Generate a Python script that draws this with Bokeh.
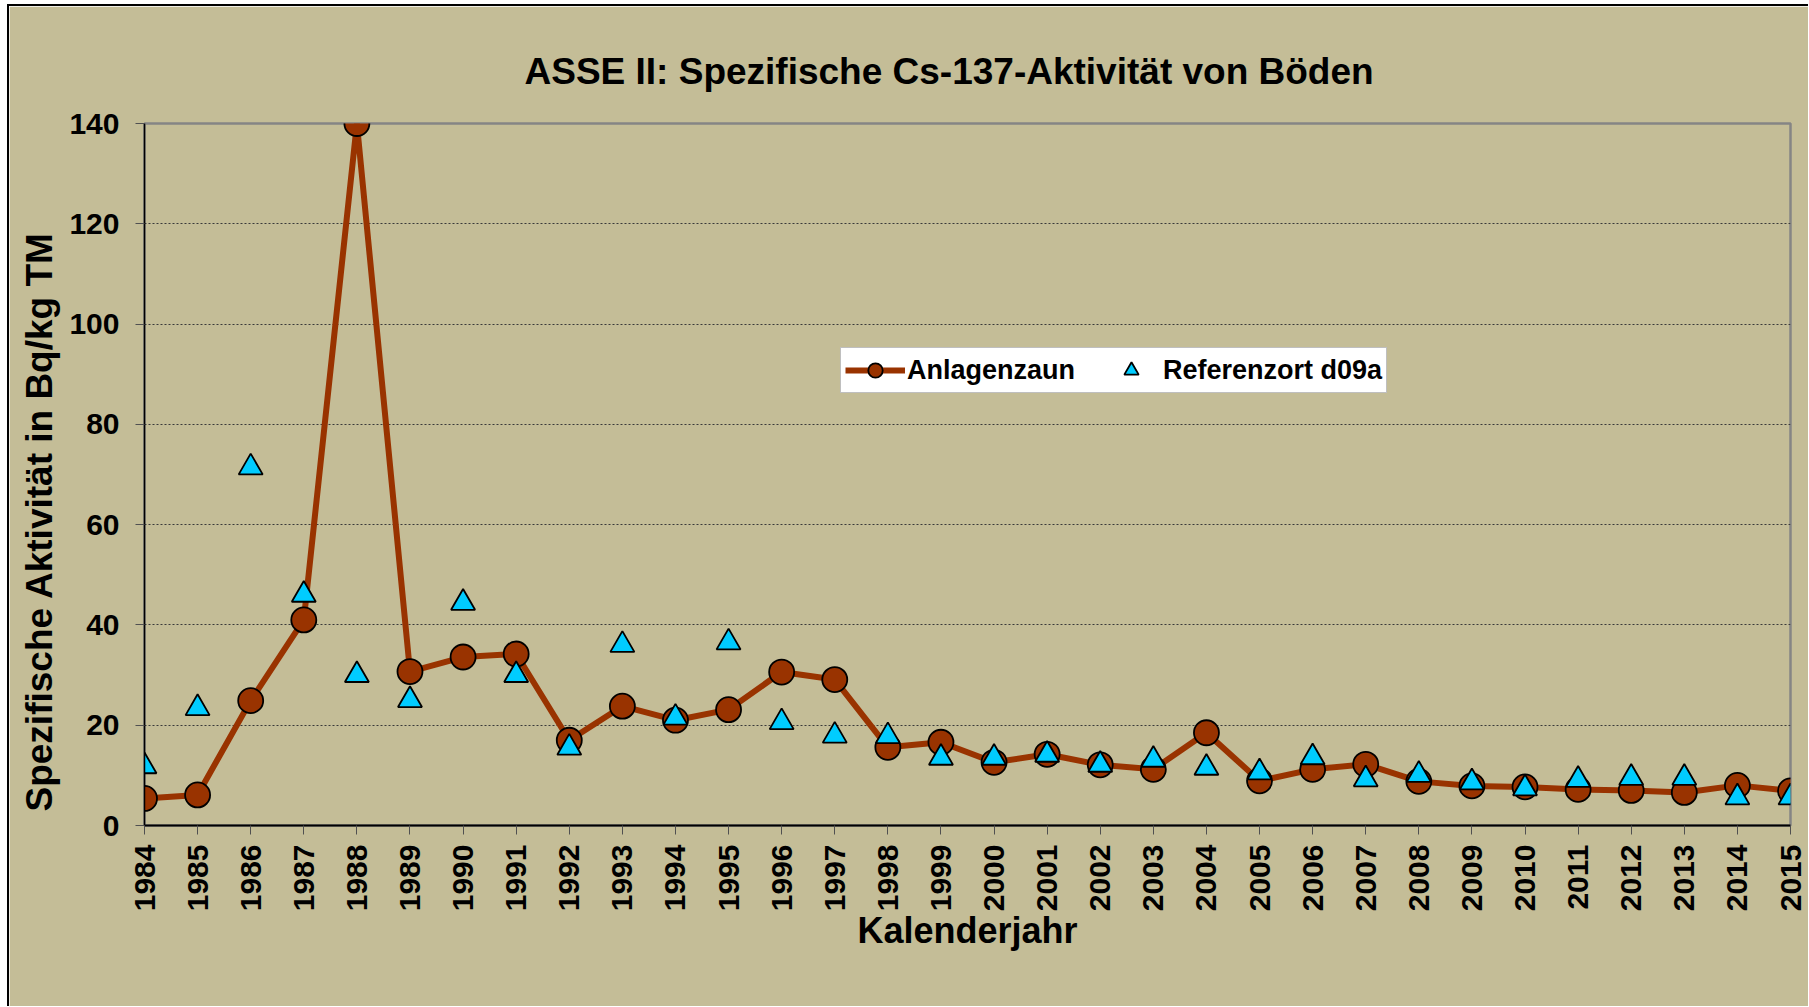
import math
from bokeh.plotting import figure
from bokeh.models import Range1d, FixedTicker, Legend, LegendItem, Title
from bokeh.embed import file_html
from bokeh.resources import INLINE

# ---------------- data ----------------
years = list(range(1984, 2016))
year_labels = [str(y) for y in years]

anlagenzaun = [5.4, 6.1, 24.9, 41.0, 140.0, 30.7, 33.6, 34.2, 17.0, 23.8,
               21.0, 23.1, 30.6, 29.1, 15.6, 16.6, 12.6, 14.2, 12.1, 11.2,
               18.5, 8.9, 11.2, 12.2, 8.8, 7.9, 7.7, 7.2, 7.0, 6.6,
               8.0, 6.9]

referenzort = [11.8, 23.4, 71.4, 46.0, 30.0, 25.0, 44.4, 30.0, 15.5, 36.0,
               21.5, 36.5, 20.6, 17.9, 17.8, 13.5, 13.5, 14.1, 12.1, 13.1,
               11.5, 10.6, 13.6, 9.2, 10.1, 8.6, 7.4, 9.1, 9.5, 9.5,
               5.6, 5.6]

y_ticks = [0, 20, 40, 60, 80, 100, 120, 140]

title_text = "ASSE II: Spezifische Cs-137-Aktivität von Böden"
x_title = "Kalenderjahr"
y_title = "Spezifische Aktivität in Bq/kg TM"
series_names = ["Anlagenzaun", "Referenzort d09a"]

# ---------------- style ----------------
BG = "#C4BD97"
LINE_COL = "#993300"
TRI_COL = "#00CCFF"
FONT = "Liberation Sans"

p = figure(
    x_range=Range1d(years[0], years[-1]),
    y_range=Range1d(y_ticks[0], y_ticks[-1]),
    frame_width=1646, frame_height=702,
    min_border_left=135, min_border_right=18,
    min_border_top=117, min_border_bottom=181,
    output_backend="svg", toolbar_location=None,
)
p.styles = {"margin-left": "7px", "margin-top": "4px",
            "border-top": "2px solid #000", "border-left": "2px solid #000"}
p.background_fill_color = BG
p.border_fill_color = BG
p.outline_line_color = "#858585"
p.outline_line_width = 2.5
p.xgrid.visible = False

# title
p.title.text = title_text
p.title.align = "left"
p.title.offset = 380
p.title.text_font = FONT
p.title.text_font_size = "37px"
p.title.text_font_style = "bold"
p.title.text_color = "#000000"
p.title.standoff = 63

# series
r_line = p.line(years, anlagenzaun, line_color=LINE_COL, line_width=6)
r_circ = p.scatter(years, anlagenzaun, marker="circle", size=25,
                   fill_color=LINE_COL, line_color="#000000", line_width=1.8)
r_tri = p.scatter(years, referenzort, marker="triangle", size=24,
                  fill_color=TRI_COL, line_color="#000000", line_width=1.8)

# axes
xa = p.xaxis[0]
xa.ticker = FixedTicker(ticks=years)
xa.major_label_overrides = {y: s for y, s in zip(years, year_labels)}
xa.major_label_orientation = math.pi / 2
xa.major_label_text_font = FONT
xa.major_label_text_font_size = "30px"
xa.major_label_text_font_style = "bold"
xa.major_label_text_color = "#000000"
xa.major_label_standoff = 10
xa.major_tick_out = 9
xa.major_tick_in = 0
xa.major_tick_line_color = "#505050"
xa.minor_tick_line_color = None
xa.axis_line_color = "#000000"
xa.axis_line_width = 2
xa.axis_label = x_title
xa.axis_label_text_font = FONT
xa.axis_label_text_font_size = "36px"
xa.axis_label_text_font_style = "bold"
xa.axis_label_text_color = "#000000"
xa.axis_label_standoff = -4

ya = p.yaxis[0]
ya.ticker = FixedTicker(ticks=y_ticks)
ya.major_label_text_font = FONT
ya.major_label_text_font_size = "30px"
ya.major_label_text_font_style = "bold"
ya.major_label_text_color = "#000000"
ya.major_label_standoff = 16
ya.major_tick_out = 9
ya.major_tick_in = 0
ya.major_tick_line_color = "#505050"
ya.minor_tick_line_color = None
ya.axis_line_color = "#000000"
ya.axis_line_width = 1.5

p.ygrid.ticker = FixedTicker(ticks=y_ticks)
p.ygrid.grid_line_color = "#3a3a3a"
p.ygrid.grid_line_width = 1
p.ygrid.grid_line_dash = "2 2"

# y axis title (rotated, placed in the left panel)
ytitle = Title(text=y_title, align="left", offset=14, standoff=14,
               text_font=FONT, text_font_size="37px",
               text_font_style="bold", text_color="#000000")
p.add_layout(ytitle, "left")

# legend
legend = Legend(
    items=[LegendItem(label=series_names[0], renderers=[r_line, r_circ]),
           LegendItem(label=series_names[1], renderers=[r_tri])],
    location=(696, 432), orientation="horizontal",
    background_fill_color="#FFFFFF", background_fill_alpha=1.0,
    border_line_color="#808080", border_line_width=1.5,
    label_text_font=FONT, label_text_font_size="27px",
    label_text_font_style="bold", label_text_color="#000000",
    glyph_width=60, glyph_height=36, label_standoff=2, spacing=26,
    padding=4, margin=0,
)
p.add_layout(legend, "center")

open("out.html", "w").write(file_html(p, INLINE))
